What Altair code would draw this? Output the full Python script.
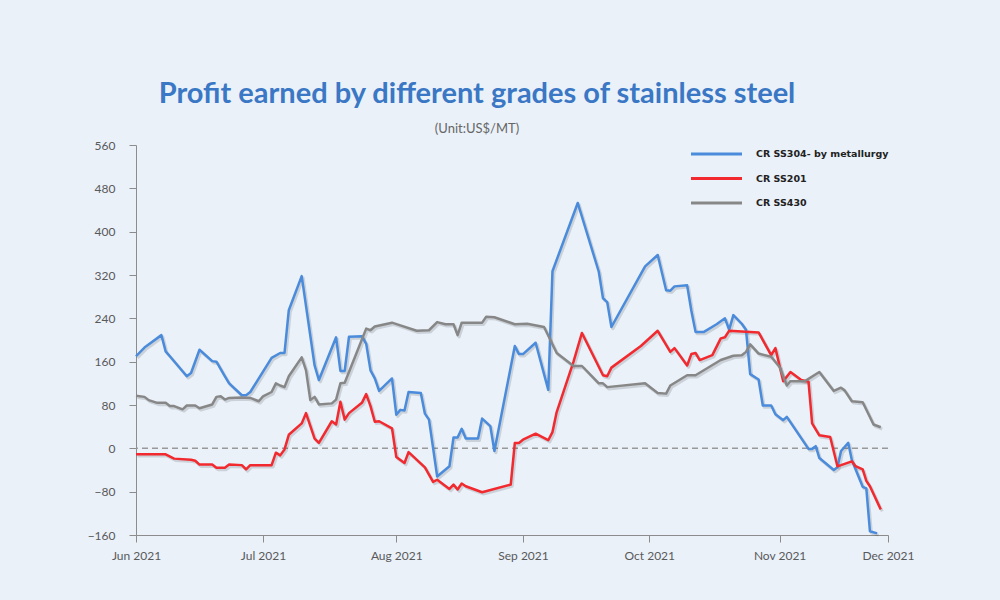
import altair as alt
import pandas as pd

series_names = ["CR SS304- by metallurgy", "CR SS201", "CR SS430"]
series_colors = ["#4A8BDB", "#F2292E", "#878787"]

ss304_dates = ["2021-06-01","2021-06-03","2021-06-07","2021-06-08","2021-06-09","2021-06-13","2021-06-14","2021-06-16","2021-06-19","2021-06-20",
               "2021-06-22","2021-06-23","2021-06-26","2021-06-27","2021-06-28","2021-07-03","2021-07-05","2021-07-06","2021-07-07","2021-07-10",
               "2021-07-13","2021-07-14","2021-07-18","2021-07-19","2021-07-20","2021-07-21","2021-07-24","2021-07-25","2021-07-26","2021-07-27",
               "2021-07-28","2021-07-31","2021-08-01","2021-08-02","2021-08-03","2021-08-04","2021-08-07","2021-08-08","2021-08-09","2021-08-11",
               "2021-08-14","2021-08-15","2021-08-16","2021-08-17","2021-08-18","2021-08-21","2021-08-22","2021-08-24","2021-08-25","2021-08-30",
               "2021-08-31","2021-09-01","2021-09-04","2021-09-07","2021-09-08","2021-09-14","2021-09-19","2021-09-20","2021-09-21","2021-09-22",
               "2021-09-30","2021-10-03","2021-10-05","2021-10-06","2021-10-07","2021-10-10","2021-10-11","2021-10-12","2021-10-14","2021-10-17",
               "2021-10-19","2021-10-20","2021-10-21","2021-10-23","2021-10-24","2021-10-25","2021-10-27","2021-10-28","2021-10-30","2021-10-31",
               "2021-11-02","2021-11-03","2021-11-09","2021-11-10","2021-11-11","2021-11-12","2021-11-16","2021-11-17","2021-11-18","2021-11-20",
               "2021-11-21","2021-11-24","2021-11-25","2021-11-26","2021-11-28"]
ss304_values = [170,186,209,179,170,133,139,182,161,160,
                133,120,98,98,104,167,176,176,255,318,
                153,126,205,143,143,206,207,193,144,129,
                106,129,62,71,70,104,102,64,53,-52,
                -33,20,20,36,18,18,55,41,-5,189,
                174,174,195,108,327,453,326,277,270,224,
                336,357,292,291,299,301,254,215,215,229,
                240,219,246,230,219,137,127,79,79,63,
                52,58,-1,-1,4,-18,-40,-35,-5,10,
                -22,-71,-74,-153,-157]

ss201_dates = ["2021-06-01","2021-06-08","2021-06-10","2021-06-14","2021-06-15","2021-06-16","2021-06-19","2021-06-20","2021-06-22","2021-06-23",
               "2021-06-26","2021-06-27","2021-06-28","2021-07-03","2021-07-04","2021-07-05","2021-07-06","2021-07-07","2021-07-10","2021-07-11",
               "2021-07-13","2021-07-14","2021-07-17","2021-07-18","2021-07-19","2021-07-20","2021-07-21","2021-07-24","2021-07-25","2021-07-26",
               "2021-07-27","2021-07-28","2021-07-31","2021-08-01","2021-08-03","2021-08-04","2021-08-08","2021-08-10","2021-08-11","2021-08-14",
               "2021-08-15","2021-08-16","2021-08-17","2021-08-18","2021-08-22","2021-08-29","2021-08-30","2021-08-31","2021-09-01","2021-09-04",
               "2021-09-07","2021-09-08","2021-09-09","2021-09-13","2021-09-15","2021-09-20","2021-09-21","2021-09-22","2021-09-29","2021-10-03",
               "2021-10-06","2021-10-07","2021-10-10","2021-10-11","2021-10-12","2021-10-13","2021-10-16","2021-10-18","2021-10-19","2021-10-20",
               "2021-10-27","2021-10-30","2021-10-31","2021-11-02","2021-11-04","2021-11-07","2021-11-09","2021-11-10","2021-11-12","2021-11-15",
               "2021-11-17","2021-11-18","2021-11-21","2021-11-22","2021-11-24","2021-11-25","2021-11-26","2021-11-29"]
ss201_values = [-11,-11,-19,-21,-23,-30,-30,-36,-36,-30,
                -31,-39,-31,-31,-8,-13,-2,25,46,65,
                18,10,50,44,86,53,65,84,100,78,
                49,50,37,-16,-27,-7,-35,-62,-58,-75,
                -67,-76,-65,-70,-81,-67,10,10,16,27,
                15,30,67,160,213,135,133,149,189,217,
                178,185,153,174,176,163,172,203,205,217,
                214,172,185,124,141,126,123,46,24,21,
                -33,-31,-24,-33,-39,-60,-70,-113]

ss430_dates = ["2021-06-01","2021-06-03","2021-06-04","2021-06-06","2021-06-08","2021-06-09","2021-06-10","2021-06-12","2021-06-13","2021-06-15",
               "2021-06-16","2021-06-19","2021-06-20","2021-06-21","2021-06-22","2021-06-23","2021-06-26","2021-06-28","2021-06-30","2021-07-01",
               "2021-07-03","2021-07-04","2021-07-05","2021-07-06","2021-07-07","2021-07-10","2021-07-11","2021-07-12","2021-07-13","2021-07-14",
               "2021-07-17","2021-07-18","2021-07-19","2021-07-20","2021-07-25","2021-07-26","2021-07-27","2021-07-31","2021-08-02","2021-08-06",
               "2021-08-09","2021-08-11","2021-08-13","2021-08-15","2021-08-16","2021-08-17","2021-08-22","2021-08-23","2021-08-25","2021-08-30",
               "2021-09-02","2021-09-06","2021-09-09","2021-09-13","2021-09-15","2021-09-19","2021-09-20","2021-09-21","2021-09-30","2021-10-03",
               "2021-10-05","2021-10-06","2021-10-10","2021-10-12","2021-10-18","2021-10-21","2021-10-23","2021-10-24","2021-10-25","2021-10-27",
               "2021-10-30","2021-11-01","2021-11-03","2021-11-04","2021-11-08","2021-11-12","2021-11-16","2021-11-18","2021-11-19","2021-11-21",
               "2021-11-24","2021-11-27","2021-11-29"]
ss430_values = [97,95,89,84,84,78,78,72,79,79,
                74,81,95,96,90,93,94,93,87,96,
                104,120,116,113,133,168,144,89,95,81,
                83,90,120,121,221,218,225,232,227,217,
                218,233,229,229,209,232,232,243,242,229,
                230,224,176,152,152,120,120,113,120,102,
                101,116,135,135,163,171,172,178,192,175,
                169,150,116,124,124,141,106,112,107,87,
                85,44,39]

month_starts = ["2021-06-01", "2021-07-01", "2021-08-01", "2021-09-01",
                "2021-10-01", "2021-11-01", "2021-12-01"]
month_labels = ["Jun 2021", "Jul 2021", "Aug 2021", "Sep 2021",
                "Oct 2021", "Nov 2021", "Dec 2021"]
y_ticks = [-160, -80, 0, 80, 160, 240, 320, 400, 480, 560]

origin = pd.Timestamp(month_starts[0])
frames = []
for name, d, v in zip(series_names, [ss304_dates, ss201_dates, ss430_dates],
                      [ss304_values, ss201_values, ss430_values]):
    dates = pd.to_datetime(d)
    frames.append(pd.DataFrame({"series": name, "date": dates,
                                "day": (dates - origin).days,
                                "value": v, "idx": list(range(len(v)))}))
df = pd.concat(frames, ignore_index=True)

tick_days = [int((pd.Timestamp(m) - origin).days) for m in month_starts]
# piecewise x scale reproducing the uneven month spacing of the original axis
tick_px = [0, 127, 260.3, 387, 513.3, 643.6, 752]

label_expr = "{}[indexof({}, datum.value)]".format(
    "[" + ",".join("'%s'" % s for s in month_labels) + "]",
    "[" + ",".join(str(t) for t in tick_days) + "]")

x_enc = alt.X("day:Q",
              scale=alt.Scale(domain=tick_days, range=tick_px, nice=False, zero=False),
              axis=alt.Axis(values=tick_days, labelExpr=label_expr, title=None, grid=False,
                            tickSize=7, labelPadding=8, labelFlush=False))
y_enc = alt.Y("value:Q",
              scale=alt.Scale(domain=[-160, 560], nice=False, zero=False),
              axis=alt.Axis(values=y_ticks, title=None, grid=False,
                            tickSize=7, labelPadding=14))
color_scale = alt.Scale(domain=series_names, range=series_colors)

base = alt.Chart(df)
shadow = base.mark_line(strokeWidth=3, color="#000000", opacity=0.13,
                        xOffset=1.5, yOffset=1.8, strokeJoin="round").encode(
    x=x_enc, y=y_enc, detail="series:N", order="idx:Q")
lines = base.mark_line(strokeWidth=2.5, strokeJoin="round").encode(
    x=x_enc, y=y_enc,
    color=alt.Color("series:N", scale=color_scale, legend=None),
    order="idx:Q")
zero_rule = alt.Chart(pd.DataFrame({"v": [0]})).mark_rule(
    color="#999999", strokeWidth=1.5, strokeDash=[6, 4]).encode(y=alt.Y("v:Q"))

main = alt.layer(zero_rule, shadow, lines)

leg_df = pd.DataFrame({"series": series_names})
leg_y = alt.Y("series:N", sort=series_names,
              scale=alt.Scale(type="point", domain=series_names, range=[9, 58], padding=0),
              axis=None)
legend_rules = alt.Chart(leg_df).mark_rule(strokeWidth=3).encode(
    x=alt.value(555), x2=alt.value(606), y=leg_y,
    color=alt.Color("series:N", scale=color_scale, legend=None))
legend_text = alt.Chart(leg_df).mark_text(
    align="left", baseline="middle", font="DejaVu Sans", fontWeight="bold",
    fontSize=9.5, color="#222222").encode(
    x=alt.value(620), y=leg_y, text="series:N")
legend = alt.layer(legend_rules, legend_text)

chart = alt.layer(main, legend).resolve_scale(y="independent").properties(
    width=752, height=390,
    autosize=alt.AutoSizeParams(type="none"),
    padding={"left": 136, "top": 145, "right": 112, "bottom": 65},
    background="#EAF1F9",
    title=alt.TitleParams(
        text="Profit earned by different grades of stainless steel",
        subtitle="(Unit:US$/MT)",
        font="Lato", fontSize=29, fontWeight="bold", color="#3A77C4",
        subtitleFont="Lato", subtitleFontSize=13, subtitleColor="#666666",
        anchor="middle", dx=-35, offset=3, subtitlePadding=14),
).configure_view(stroke=None).configure_axis(
    domainColor="#8C8C8C", tickColor="#8C8C8C", labelColor="#595959",
    labelFont="Lato", labelFontSize=12)

chart.save("out.html", embed_options={"renderer": "svg", "actions": False})
